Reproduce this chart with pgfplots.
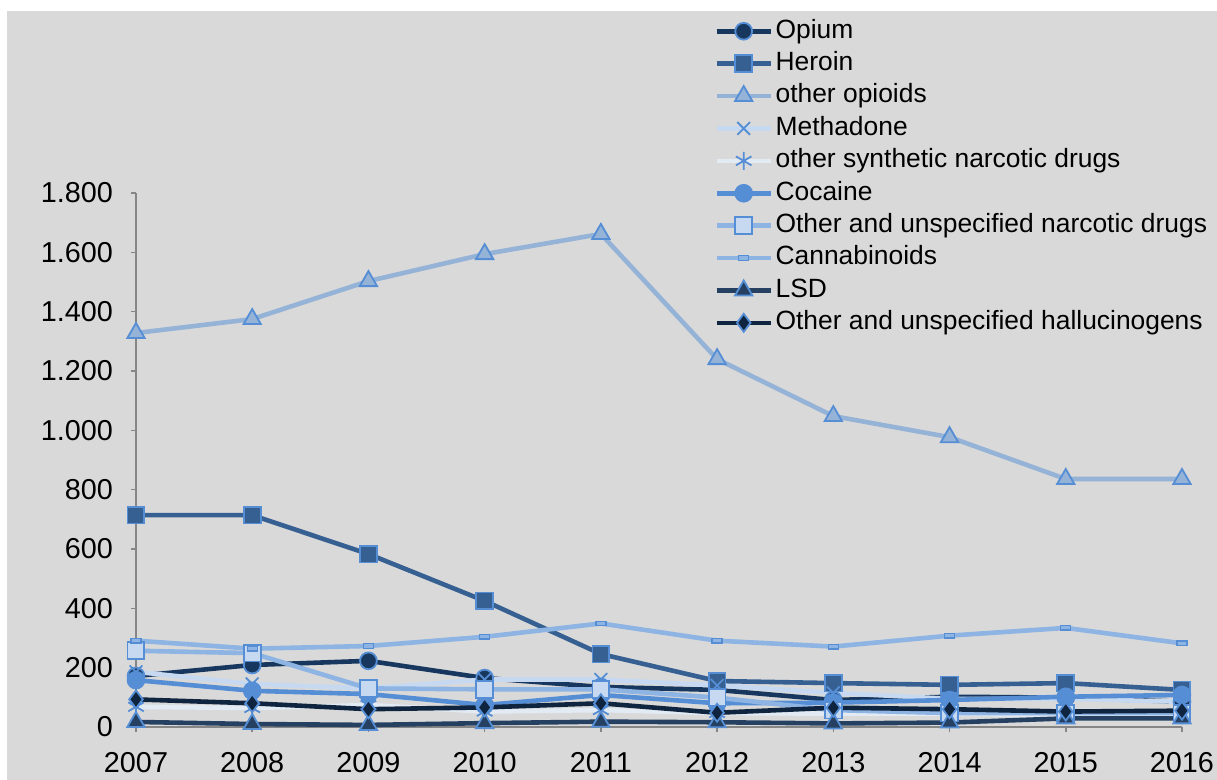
\documentclass[border=0pt]{standalone}
\usepackage{pgfplots}
\pgfplotsset{compat=1.18}
\usepackage{fontspec}
\setmainfont{Liberation Sans}
\definecolor{bgray}{HTML}{D9D9D9}
\definecolor{axgray}{HTML}{868686}
\definecolor{mout}{HTML}{558ED5}
\definecolor{cOpium}{HTML}{17375E}
\definecolor{cHeroin}{HTML}{376092}
\definecolor{cOpioid}{HTML}{95B3D7}
\definecolor{cMeth}{HTML}{C6D9F1}
\definecolor{cSynth}{HTML}{E2EAF4}
\definecolor{cCoca}{HTML}{558ED5}
\definecolor{cOther}{HTML}{8EB4E3}
\definecolor{cOtherFill}{HTML}{C6D9F1}
\definecolor{cCanna}{HTML}{8EB4E3}
\definecolor{cLSD}{HTML}{254061}
\definecolor{cHall}{HTML}{0F243E}
\begin{document}
\begin{tikzpicture}
\fill[white] (0,0) rectangle (608.5pt,-390pt);
\fill[bgray] (3.5pt,-5.5pt) rectangle (608.5pt,-390pt);
\begin{axis}[
  at={(68pt,-363.5pt)}, anchor=south west,
  scale only axis, width=523pt, height=267pt,
  xmin=2007, xmax=2016, ymin=0, ymax=1800,
  clip=false,
  axis lines=left,
  axis line style={-, draw=axgray, line width=0.8pt},
  tick align=outside, major tick length=2.5pt,
  tick style={draw=axgray, line width=0.8pt},
  xtick={2007,2008,2009,2010,2011,2012,2013,2014,2015,2016},
  xticklabels={2007,2008,2009,2010,2011,2012,2013,2014,2015,2016},
  ytick={0,200,400,600,800,1000,1200,1400,1600,1800},
  yticklabels={0,200,400,600,800,1.000,1.200,1.400,1.600,1.800},
  ticklabel style={font=\fontsize{14.4}{16}\selectfont, text=black},
  xticklabel style={yshift=-6.5pt},
  yticklabel style={xshift=-5.5pt},
  legend style={at={(0.5526,1.334)}, anchor=north west, draw=none, fill=none,
    font=\fontsize{13.2}{15}\selectfont, row sep=0pt, inner sep=0pt,
    cells={anchor=west},
    nodes={inner sep=1.3pt, text height=10.2pt, text depth=3.4pt}},
  legend cell align=left,
  legend image code/.code={\draw[mark repeat=2,mark phase=2] plot coordinates {(0pt,0pt) (13.5pt,0pt) (27pt,0pt)};},
  every axis plot/.append style={line width=2.3pt},
]
\addplot[cOpium, mark=*, mark size=4.2pt, mark options={fill=cOpium, draw=mout, line width=0.9pt}]
 coordinates {(2007,172)(2008,209)(2009,223)(2010,165)(2011,135)(2012,125)(2013,91)(2014,102)(2015,99)(2016,85)};
\addlegendentry{Opium}
\addplot[cHeroin, mark=square*, mark size=4.2pt, mark options={fill=cHeroin, draw=mout, line width=0.9pt}]
 coordinates {(2007,714)(2008,714)(2009,583)(2010,425)(2011,246)(2012,155)(2013,148)(2014,142)(2015,148)(2016,125)};
\addlegendentry{Heroin}
\addplot[cOpioid, mark=triangle*, mark size=5pt, mark options={fill=cOpioid, draw=mout, line width=0.9pt}]
 coordinates {(2007,1328)(2008,1375)(2009,1503)(2010,1594)(2011,1662)(2012,1240)(2013,1048)(2014,977)(2015,836)(2016,836)};
\addlegendentry{other opioids}
\addplot[cMeth, mark=x, mark size=4.5pt, mark options={draw=mout, line width=0.9pt}]
 coordinates {(2007,186)(2008,145)(2009,130)(2010,160)(2011,160)(2012,140)(2013,115)(2014,95)(2015,95)(2016,85)};
\addlegendentry{Methadone}
\addplot[cSynth, mark=asterisk, mark size=4.5pt, mark options={draw=mout, line width=0.9pt}]
 coordinates {(2007,68)(2008,64)(2009,74)(2010,52)(2011,57)(2012,47)(2013,45)(2014,45)(2015,40)(2016,40)};
\addlegendentry{other synthetic narcotic drugs}
\addplot[cCoca, mark=*, mark size=4.2pt, mark options={fill=cCoca, draw=mout, line width=0.9pt}]
 coordinates {(2007,158)(2008,122)(2009,111)(2010,74)(2011,108)(2012,80)(2013,82)(2014,91)(2015,102)(2016,108)};
\addlegendentry{Cocaine}
\addplot[cOther, mark=square*, mark size=4.2pt, mark options={fill=cOtherFill, draw=mout, line width=0.9pt}]
 coordinates {(2007,257)(2008,249)(2009,130)(2010,127)(2011,127)(2012,99)(2013,57)(2014,47)(2015,47)(2016,47)};
\addlegendentry{Other and unspecified narcotic drugs}
\addplot[cCanna, mark=square*, mark size=2.5pt, mark options={fill=cCanna, draw=mout, line width=0.7pt, yscale=0.45}]
 coordinates {(2007,291)(2008,264)(2009,273)(2010,304)(2011,349)(2012,291)(2013,271)(2014,308)(2015,334)(2016,282)};
\addlegendentry{Cannabinoids}
\addplot[cLSD, mark=triangle*, mark size=5pt, mark options={fill=cLSD, draw=mout, line width=0.9pt}]
 coordinates {(2007,17)(2008,10)(2009,7)(2010,13)(2011,18)(2012,16)(2013,12)(2014,15)(2015,29)(2016,29)};
\addlegendentry{LSD}
\addplot[cHall, mark=diamond*, mark size=4.5pt, mark options={fill=cHall, draw=mout, line width=0.9pt}]
 coordinates {(2007,93)(2008,80)(2009,60)(2010,66)(2011,80)(2012,48)(2013,65)(2014,60)(2015,52)(2016,55)};
\addlegendentry{Other and unspecified hallucinogens}
\end{axis}
\pgfresetboundingbox
\useasboundingbox (0,0) rectangle (608.5pt,-390pt);
\end{tikzpicture}
\end{document}
